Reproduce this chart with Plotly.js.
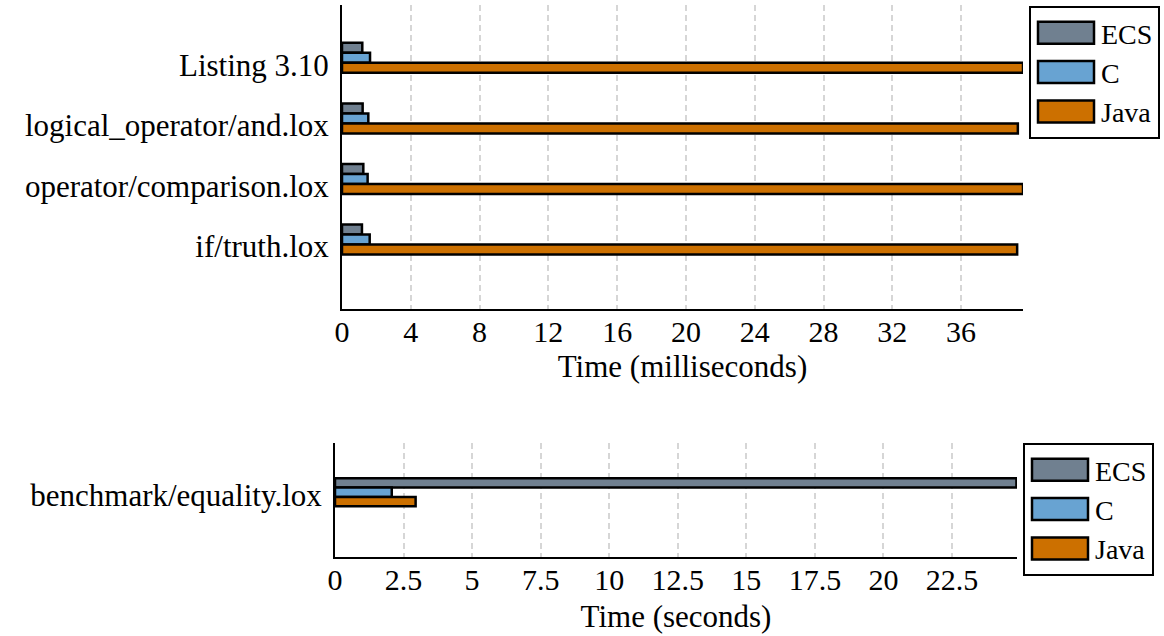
<!DOCTYPE html>
<html>
<head>
<meta charset="utf-8">
<script src="https://cdn.plot.ly/plotly-3.0.1.min.js"></script>
<style>
html,body{margin:0;padding:0;background:#fff;}
#chart{width:1164px;height:636px;}
</style>
</head>
<body>
<div id="chart"></div>
<script>
// ---- data ----
const testCategories = ['Listing 3.10', 'logical_operator/and.lox', 'operator/comparison.lox', 'if/truth.lox'];
const ecsMs  = [1.18, 1.20, 1.24, 1.16];
const cMs    = [1.63, 1.53, 1.49, 1.61];
const javaMs = [39.6, 39.3, 39.6, 39.26];

const benchCategories = ['benchmark/equality.lox'];
const ecsSec  = [24.85];
const cSec    = [2.07];
const javaSec = [2.94];

const seriesNames = ['ECS', 'C', 'Java'];
const seriesColors = ['#708090', '#68a3d2', '#cc7000'];

const FONT = '"Liberation Serif", "Times New Roman", serif';
const W = 1164, H = 636;

function bar(name, color, x, y, xa, ya, legend, offset, width) {
  return {
    type: 'bar', orientation: 'h', name: name,
    x: x, y: y, xaxis: xa, yaxis: ya, legend: legend,
    offset: offset, width: width,
    marker: {color: color, line: {color: '#000', width: 2.5}},
    showlegend: true, hoverinfo: 'x+y+name'
  };
}

const topOff = [-0.365, -0.20, -0.035], topW = 0.165;
const botOff = [-0.28, -0.125, 0.03], botW = 0.155;

const topVals = [ecsMs, cMs, javaMs];
const botVals = [ecsSec, cSec, javaSec];

const data = [];
for (let i = 0; i < 3; i++) {
  data.push(bar(seriesNames[i], seriesColors[i], topVals[i], testCategories, 'x', 'y', 'legend', topOff[i], topW));
}
for (let i = 0; i < 3; i++) {
  data.push(bar(seriesNames[i], seriesColors[i], botVals[i], benchCategories, 'x2', 'y2', 'legend2', botOff[i], botW));
}

const gridStyle = {showgrid: true, gridcolor: '#d6d6d6', gridwidth: 2, griddash: '6px,4px'};
const lineStyle = {showline: true, linecolor: '#000', linewidth: 2, zeroline: false, ticks: ''};

const legendStyle = {
  xanchor: 'left', yanchor: 'top',
  bgcolor: '#fff', bordercolor: '#000', borderwidth: 2,
  font: {family: FONT, size: 28, color: '#000'},
  itemwidth: 60, traceorder: 'normal'
};

const layout = {
  width: W, height: H,
  margin: {l: 0, r: 0, t: 0, b: 0},
  paper_bgcolor: '#fff', plot_bgcolor: '#fff',
  font: {family: FONT, size: 30, color: '#000'},
  barmode: 'overlay',
  showlegend: true,
  xaxis: Object.assign({
    domain: [342 / W, 1023 / W], anchor: 'y',
    range: [0, 39.6], tick0: 0, dtick: 4,
    tickfont: {family: FONT, size: 30},
    ticklabelstandoff: -5,
    title: {text: 'Time (milliseconds)', font: {family: FONT, size: 31}, standoff: 8}
  }, gridStyle, lineStyle),
  yaxis: Object.assign({
    domain: [1 - 309 / H, 1 - 5 / H], anchor: 'x',
    type: 'category', range: [4.03, -0.99],
    tickfont: {family: FONT, size: 31},
    ticklabelstandoff: 5, showgrid: false
  }, lineStyle),
  xaxis2: Object.assign({
    domain: [335 / W, 1017 / W], anchor: 'y2',
    range: [0, 24.87], tick0: 0, dtick: 2.5,
    tickfont: {family: FONT, size: 30},
    ticklabelstandoff: -5,
    title: {text: 'Time (seconds)', font: {family: FONT, size: 31}, standoff: 10}
  }, gridStyle, lineStyle),
  yaxis2: Object.assign({
    domain: [1 - 557 / H, 1 - 443 / H], anchor: 'x2',
    type: 'category', range: [1.02, -0.86],
    tickfont: {family: FONT, size: 31},
    ticklabelstandoff: 5, showgrid: false
  }, lineStyle),
  legend: Object.assign({x: 1029 / W, y: 1 - 6 / H}, legendStyle),
  legend2: Object.assign({x: 1023 / W, y: 1 - 443 / H}, legendStyle)
};

function widenSwatches(gd) {
  gd.querySelectorAll('g.legendpoints path').forEach(function (p) {
    p.setAttribute('d', 'M28,11H-28V-11H28Z');
    p.style.strokeWidth = '2.5px';
    p.style.stroke = '#000';
  });
}

const gdEl = document.getElementById('chart');
Plotly.newPlot(gdEl, data, layout, {displayModeBar: false, staticPlot: true}).then(function (gd) {
  widenSwatches(gd);
  gd.on('plotly_afterplot', function () { widenSwatches(gd); });
  setTimeout(function () { widenSwatches(gd); }, 0);
  setTimeout(function () { widenSwatches(gd); }, 200);
});
</script>
</body>
</html>
